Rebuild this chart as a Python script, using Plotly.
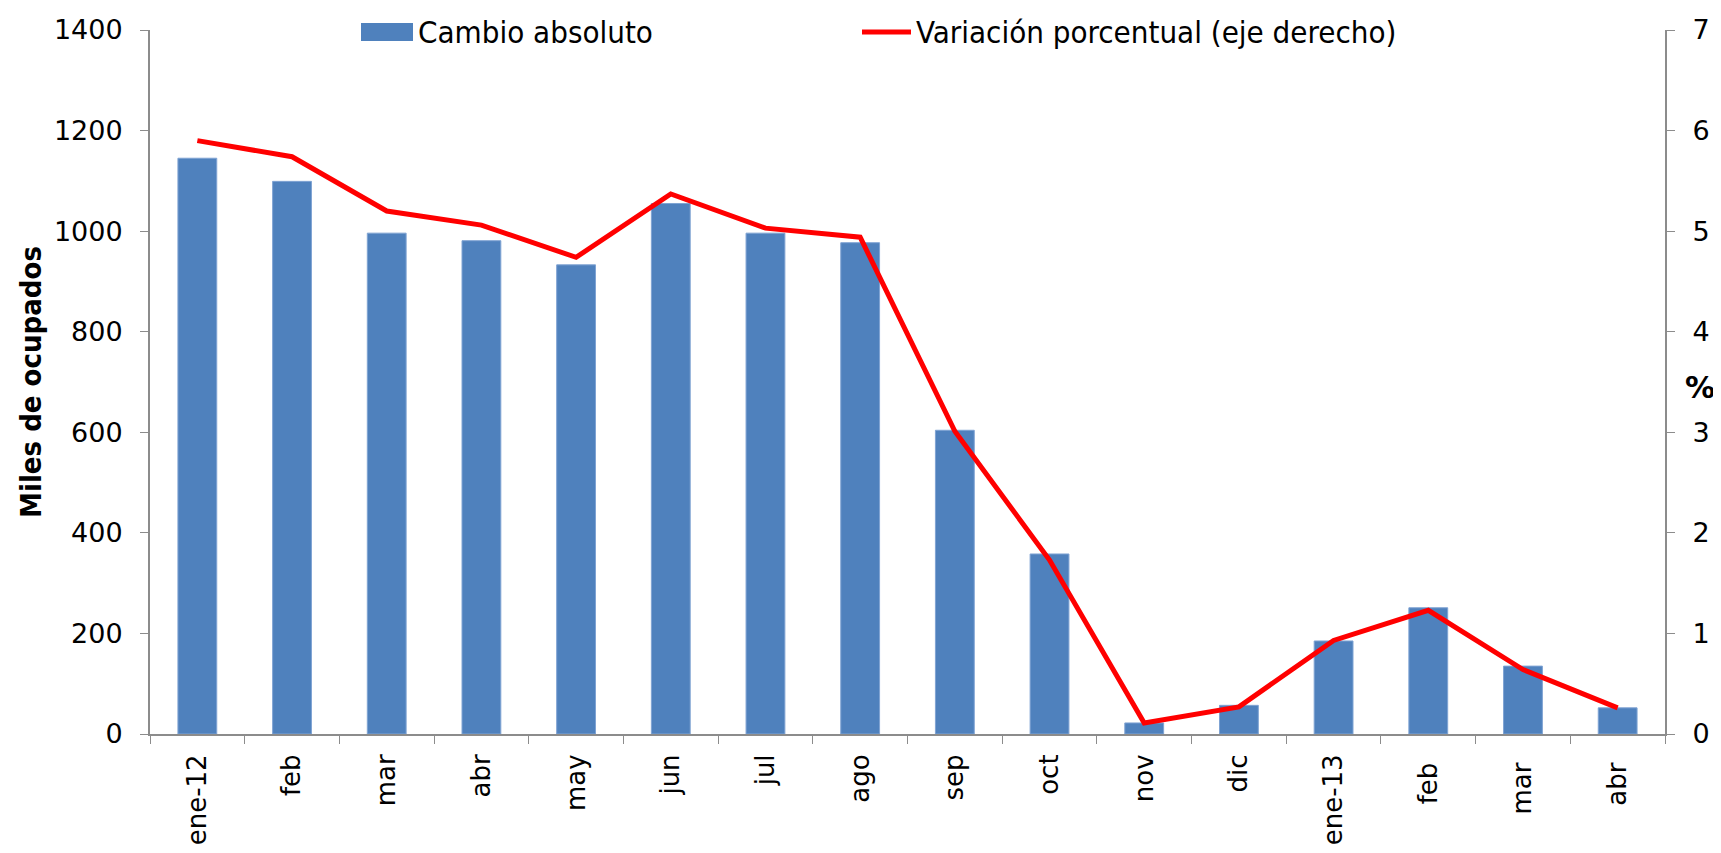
import plotly.graph_objects as go

categories = ["ene-12", "feb", "mar", "abr", "may", "jun", "jul", "ago",
              "sep", "oct", "nov", "dic", "ene-13", "feb ", "mar ", "abr "]
cambio_absoluto = [1145, 1099, 996, 981, 933, 1055, 996, 977,
                   604, 358, 22, 57, 185, 251, 135, 52]
variacion_pct = [5.90, 5.74, 5.20, 5.06, 4.74, 5.37, 5.03, 4.94,
                 3.01, 1.73, 0.11, 0.27, 0.93, 1.23, 0.64, 0.26]
left_ticks = [0, 200, 400, 600, 800, 1000, 1200, 1400]
right_ticks = [0, 1, 2, 3, 4, 5, 6, 7]

FONT = "DejaVu Sans"
COND = "DejaVu Sans Condensed, DejaVu Sans"
BAR_COLOR = "#4F81BD"
LINE_COLOR = "#FF0000"

W, H = 1713, 845
ML, MR, MT, MB = 142, 56, 22, 119
PW, PH = W - ML - MR, H - MT - MB


def px(x):
    return (x - ML) / PW


def py(y):
    return 1 - (y - MT) / PH


fig = go.Figure()
fig.add_trace(go.Bar(
    x=categories, y=cambio_absoluto, name="Cambio absoluto",
    marker=dict(color=BAR_COLOR, line=dict(color="#7FA3D3", width=1)),
    showlegend=False,
))
fig.add_trace(go.Scatter(
    x=categories, y=variacion_pct, name="Variación porcentual (eje derecho)",
    mode="lines", line=dict(color=LINE_COLOR, width=5), yaxis="y2",
    showlegend=False,
))

axis_col = "#8C8C8C"
leg_y = 24
shapes = [
    dict(type="rect", xref="paper", yref="paper",
         x0=px(353), x1=px(405), y0=py(15), y1=py(33),
         fillcolor=BAR_COLOR, line=dict(width=0)),
    dict(type="line", xref="paper", yref="paper",
         x0=px(854), x1=px(903), y0=py(leg_y), y1=py(leg_y),
         line=dict(color=LINE_COLOR, width=5)),
]
annotations = [
    dict(text="Cambio absoluto", xref="paper", yref="paper",
         x=px(408), y=py(leg_y), xanchor="left", yanchor="middle",
         showarrow=False, font=dict(family=COND, size=31)),
    dict(text="Variación porcentual (eje derecho)", xref="paper", yref="paper",
         x=px(906), y=py(leg_y), xanchor="left", yanchor="middle",
         showarrow=False, font=dict(family=COND, size=31)),
    dict(text="<b>%</b>", x=1.0, xref="paper", xanchor="center",
         xshift=35, y=3.45, yref="y2", showarrow=False,
         font=dict(family=FONT, size=30)),
]

fig.update_layout(
    width=W, height=H,
    margin=dict(l=ML, r=MR, t=MT, b=MB, autoexpand=False),
    plot_bgcolor="white", paper_bgcolor="white",
    bargap=0.59,
    font=dict(family=FONT, size=27, color="black"),
    xaxis=dict(
        type="category", tickangle=-90, tickson="boundaries",
        ticks="outside", ticklen=8, tickcolor=axis_col,
        showline=True, linecolor=axis_col, linewidth=2,
        showgrid=False, tickfont=dict(family=FONT, size=26),
        ticklabelstandoff=8,
    ),
    yaxis=dict(
        range=[0, 1400], tickvals=left_ticks, ticks="outside", ticklen=8,
        tickcolor=axis_col, showline=True, linecolor=axis_col, linewidth=2,
        showgrid=False, zeroline=False, tickfont=dict(family=FONT, size=27),
        ticklabelstandoff=12,
        title=dict(text="<b>Miles de ocupados</b>",
                   font=dict(family=COND, size=29), standoff=4),
    ),
    yaxis2=dict(
        range=[0, 7], tickvals=right_ticks, overlaying="y", side="right",
        ticks="outside", ticklen=8, tickcolor=axis_col, showline=True,
        linecolor=axis_col, linewidth=2, showgrid=False, zeroline=False,
        tickfont=dict(family=FONT, size=27), ticklabelstandoff=12,
    ),
    showlegend=False,
    shapes=shapes,
    annotations=annotations,
)

fig.write_html("out.html")
